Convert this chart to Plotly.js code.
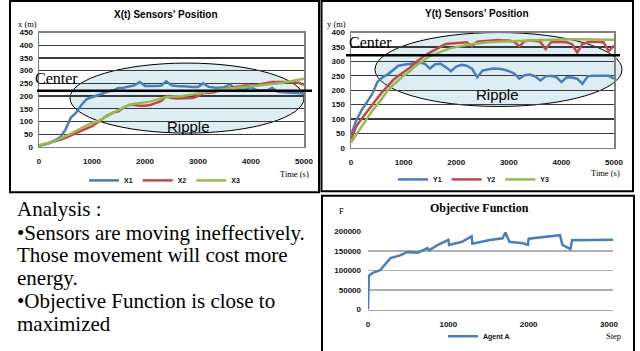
<!DOCTYPE html>
<html><head><meta charset="utf-8">
<script src="https://cdn.plot.ly/plotly-3.0.1.min.js"></script>
<style>html,body{margin:0;padding:0;background:#fff;}#chart{width:640px;height:351px;}</style>
</head><body><div id="chart"></div>
<script>
// ---------- data ----------
const timeS = [0,100,200,300,400,500,600,700,800,900,1000,1100,1200,1300,1400,1500,1600,1700,1800,1900,2000,2100,2200,2300,2400,2500,2600,2700,2800,2900,3000,3100,3200,3300,3400,3500,3600,3700,3800,3900,4000,4100,4200,4300,4400,4500,4600,4700,4800,4900,5000];
const seriesX1 = [5,8,15,25,38,68,115,135,165,188,195,200,210,218,222,232,233,238,242,255,240,240,240,241,258,242,240,240,238,236,236,250,236,234,233,235,246,230,226,226,234,224,222,222,232,218,215,214,213,212,210];
const seriesX2 = [5,10,15,22,28,36,45,52,62,72,82,95,110,125,135,140,155,165,165,162,162,165,172,180,198,192,190,190,190,192,200,212,212,215,222,228,232,236,240,242,242,243,248,252,255,255,256,255,254,252,244];
const seriesX3 = [5,10,16,24,32,42,52,62,72,85,95,100,110,122,135,145,155,165,170,172,175,178,185,192,196,198,198,200,203,206,210,212,215,220,225,228,230,233,235,236,238,240,242,244,246,250,252,256,260,264,268];
const seriesY1 = [45,95,130,160,185,228,245,255,270,285,288,290,292,296,292,275,290,292,280,266,282,288,285,275,245,268,272,275,274,272,266,258,240,252,254,248,234,248,250,246,228,245,244,240,222,248,250,250,251,250,240];
const seriesY2 = [30,75,100,125,150,172,195,215,235,250,262,275,292,307,320,330,340,352,360,362,363,364,366,352,368,370,372,374,374,372,372,368,352,370,372,371,368,342,366,368,368,366,360,330,360,366,368,368,366,335,355];
const seriesY3 = [18,45,72,100,128,150,175,200,218,235,250,262,280,294,305,318,325,333,340,346,350,354,357,360,362,365,366,367,368,369,370,370,371,372,372,373,374,374,375,375,376,376,377,377,377,377,377,377,377,376,375];
const steps = [0,5,10,60,150,280,400,490,620,740,760,870,1000,1010,1170,1290,1300,1500,1675,1710,1760,1930,1990,2000,2350,2390,2420,2520,2540,3050];
const agentA = [0,80000,87000,94000,101000,132000,139000,148000,146000,158000,152000,166000,179000,166000,174000,188000,169000,178000,183000,198000,174000,170000,166000,182000,189000,191000,166000,155000,178000,179000];
const timeTicks = [0,1000,2000,3000,4000,5000];
const stepTicks = [0,1000,2000,3000];
const namesX = ['X1','X2','X3'];
const namesY = ['Y1','Y2','Y3'];
const nameF = 'Agent A';

// ---------- layout helpers ----------
const W = 640, H = 351;
const px = x => x / W;
const py = y => 1 - y / H;
const colors = ['#4a7ebb', '#be4b48', '#98b954'];
const tickFont = {family: 'Liberation Sans, Arial, sans-serif', size: 8, color: '#111', weight: 'bold'};
const serif = 'Liberation Serif, Times New Roman, serif';
const sans = 'Liberation Sans, Arial, sans-serif';

const traces = [];
[seriesX1, seriesX2, seriesX3].forEach((s, i) => traces.push({
  x: timeS, y: s, type: 'scatter', mode: 'lines', name: namesX[i], xaxis: 'x', yaxis: 'y',
  line: {color: colors[i], width: 2.5}, legend: 'legend'
}));
[seriesY1, seriesY2, seriesY3].forEach((s, i) => traces.push({
  x: timeS, y: s, type: 'scatter', mode: 'lines', name: namesY[i], xaxis: 'x2', yaxis: 'y2',
  line: {color: colors[i], width: 2.5}, legend: 'legend2'
}));
traces.push({x: steps, y: agentA, type: 'scatter', mode: 'lines', name: nameF, xaxis: 'x3', yaxis: 'y3',
  line: {color: colors[0], width: 2.5}, legend: 'legend3'});

function boxAxis(extra) {
  return Object.assign({showline: true, mirror: true, linecolor: '#808080', linewidth: 1.5,
    zeroline: false, ticks: '', tickfont: tickFont, fixedrange: true}, extra);
}

const legendBase = {orientation: 'h', xanchor: 'center', yanchor: 'middle', bgcolor: 'rgba(0,0,0,0)',
  font: {family: sans, size: 7, color: '#111', weight: 'bold'}, itemwidth: 30, tracegroupgap: 0};

const shapes = [
  // panel frames
  {type: 'rect', xref: 'paper', yref: 'paper', x0: px(10), x1: px(319), y0: py(195), y1: py(1), line: {color: '#000', width: 2}},
  {type: 'rect', xref: 'paper', yref: 'paper', x0: px(321.5), x1: px(633), y0: py(194), y1: py(1), line: {color: '#000', width: 2}},
  {type: 'rect', xref: 'paper', yref: 'paper', x0: px(322), x1: px(634), y0: py(360), y1: py(198.5), line: {color: '#000', width: 2}},
  // ellipses
  {type: 'circle', xref: 'paper', yref: 'paper', layer: 'below', x0: px(70), x1: px(304), y0: py(135), y1: py(64),
   fillcolor: '#dcedf3', line: {color: '#000', width: 1}},
  {type: 'circle', xref: 'paper', yref: 'paper', layer: 'below', x0: px(375), x1: px(622), y0: py(108), y1: py(33),
   fillcolor: '#dcedf3', line: {color: '#000', width: 1}},
  // center lines
  {type: 'line', xref: 'paper', yref: 'paper', layer: 'above', x0: px(37), x1: px(312), y0: py(92), y1: py(92), line: {color: '#000', width: 2.5}},
  {type: 'line', xref: 'paper', yref: 'paper', layer: 'above', x0: px(346), x1: px(620), y0: py(56), y1: py(56), line: {color: '#000', width: 2.5}}
];

function ann(text, x, y, font, xanchor) {
  return {text: text, xref: 'paper', yref: 'paper', x: px(x), y: py(y), showarrow: false,
    xanchor: xanchor || 'center', yanchor: 'middle', font: font};
}
const titleFont = {family: sans, size: 10, color: '#000', weight: 'bold'};
const smallSerif = {family: serif, size: 8.5, color: '#000'};
const bigSerif = {family: serif, size: 16, color: '#000'};
const rippleFont = {family: sans, size: 15, color: '#000'};
const textFont = {family: serif, size: 21, color: '#000'};

const annotations = [
  ann("X(t) Sensors' Position", 166, 15, titleFont),
  ann("Y(t) Sensors' Position", 477, 14, titleFont),
  ann('Objective Function', 479, 211, {family: serif, size: 12, color: '#000', weight: 'bold'}),
  ann('x (m)', 27, 24, smallSerif),
  ann('y (m)', 336, 24, smallSerif),
  ann('F', 341, 214, smallSerif),
  ann('Time (s)', 294, 177, smallSerif),
  ann('Time (s)', 605, 176, smallSerif),
  ann('Step', 613, 341, smallSerif),
  ann('Center', 33, 80, bigSerif, 'left'),
  ann('Center', 347, 43, bigSerif, 'left'),
  ann('Ripple', 188, 128, rippleFont),
  ann('Ripple', 497, 96, rippleFont),
  ann('Analysis :', 15, 212, textFont, 'left'),
  ann('\u2022Sensors are moving ineffectively.', 15, 236, textFont, 'left'),
  ann('Those movement will cost more', 15, 259, textFont, 'left'),
  ann('energy.', 15, 282, textFont, 'left'),
  ann('\u2022Objective Function is close to', 15, 305, textFont, 'left'),
  ann('maximized', 15, 329, textFont, 'left')
];

const layout = {
  width: W, height: H, margin: {l: 0, r: 0, t: 0, b: 0, pad: 0},
  paper_bgcolor: '#fff', plot_bgcolor: 'rgba(0,0,0,0)',
  showlegend: true,
  xaxis: boxAxis({domain: [px(39), px(304)], range: [0, 5000], tickvals: timeTicks, showgrid: false, anchor: 'y', ticklabelstandoff: 6}),
  yaxis: boxAxis({domain: [py(149), py(33)], range: [0, 450], dtick: 50, tick0: 0, showgrid: true, gridcolor: '#3a3a3a', gridwidth: 1.2, anchor: 'x', ticklabelstandoff: 3}),
  xaxis2: boxAxis({domain: [px(351), px(614)], range: [0, 5000], tickvals: timeTicks, showgrid: false, anchor: 'y2', ticklabelstandoff: 6}),
  yaxis2: boxAxis({domain: [py(150), py(33)], range: [0, 400], dtick: 50, tick0: 0, showgrid: true, gridcolor: '#3a3a3a', gridwidth: 1.2, anchor: 'x2', ticklabelstandoff: 3}),
  xaxis3: {domain: [px(368), px(613)], range: [0, 3050], tickvals: stepTicks, showgrid: false, showline: true, linecolor: '#a8a8a8', linewidth: 1.5,
           zeroline: false, ticks: '', tickfont: tickFont, anchor: 'y3', ticklabelstandoff: 6, fixedrange: true},
  yaxis3: {domain: [py(314), py(235)], range: [0, 200000], tickvals: [0, 50000, 100000, 150000, 200000], showgrid: true, gridcolor: '#b0b0b0', gridwidth: 1.5,
           showline: false, zeroline: false, ticks: '', tickfont: tickFont, anchor: 'x3', ticklabelstandoff: 6, fixedrange: true, tickformat: 'd'},
  legend: Object.assign({}, legendBase, {x: px(165), y: py(183)}),
  legend2: Object.assign({}, legendBase, {x: px(474), y: py(182)}),
  legend3: Object.assign({}, legendBase, {x: px(479), y: py(341)}),
  shapes: shapes,
  annotations: annotations
};

Plotly.newPlot('chart', traces, layout, {displayModeBar: false, staticPlot: true});
</script>
</body></html>
